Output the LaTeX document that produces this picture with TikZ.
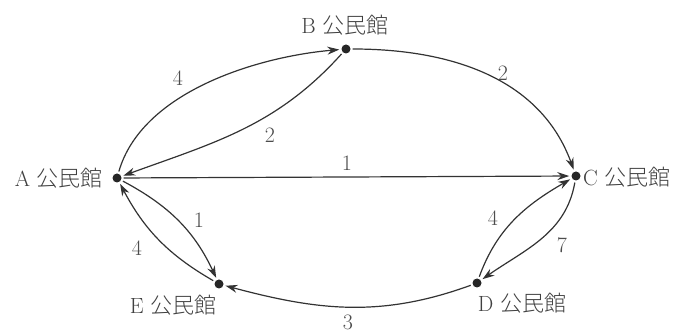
\documentclass[tikz,border=0pt]{standalone}
\usepackage{fontspec}
\newfontfamily\cjk{Noto Sans CJK JP}[UprightFont=* Light]
\usetikzlibrary{arrows.meta}
\begin{document}
\begin{tikzpicture}[x=1pt,y=1pt,
  dot/.style={circle,fill=black!85,inner sep=0pt,minimum size=9pt},
  conn/.style={-{Stealth[length=12pt,width=8pt]},line width=1.2pt,draw=black!80,shorten >=2pt,shorten <=2pt},
  lbl/.style={font=\fontsize{22}{26}\selectfont,text=black!75,inner sep=0pt},
  num/.style={font=\fontsize{22}{26}\selectfont,text=black!70,inner sep=0pt}]
\useasboundingbox (0,0) rectangle (681,335);
\node[dot] (A) at (117,157) {};
\node[dot] (B) at (346,286) {};
\node[dot] (C) at (576,159) {};
\node[dot] (D) at (477,52) {};
\node[dot] (E) at (219,51) {};
\node[lbl,anchor=east] (tA) at (103,157) {A {\cjk 公民館}};
\node[lbl] (tB) at (345,310) {B {\cjk 公民館}};
\node[lbl,anchor=west] (tC) at (583,158) {C {\cjk 公民館}};
\node[lbl] (tD) at (522,32) {D {\cjk 公民館}};
\node[lbl] (tE) at (173,30) {E {\cjk 公民館}};
\draw[conn] (A) to[out=74,in=185,looseness=0.85] (B);
\draw[conn] (B) to[out=228,in=20] (A);
\draw[conn] (B) to[out=0,in=110] (C);
\draw[conn] (A) -- (C);
\draw[conn] (A) to[out=-28,in=115] (E);
\draw[conn] (E) to[out=150,in=-62] (A);
\draw[conn] (D) to[out=70,in=210] (C);
\draw[conn] (C) to[out=260,in=35] (D);
\draw[conn] (D) to[out=200,in=-15] (E);
\node[num] (n1) at (178,257) {4};
\node[num] (n2) at (503,262) {2};
\node[num] (n3) at (270,200) {2};
\node[num] (n4) at (347,172) {1};
\node[num] (n5) at (199,115) {1};
\node[num] (n6) at (137,87) {4};
\node[num] (n7) at (493,117) {4};
\node[num] (n8) at (562,90) {7};
\node[num] (n9) at (348,13) {3};
\end{tikzpicture}
\end{document}
